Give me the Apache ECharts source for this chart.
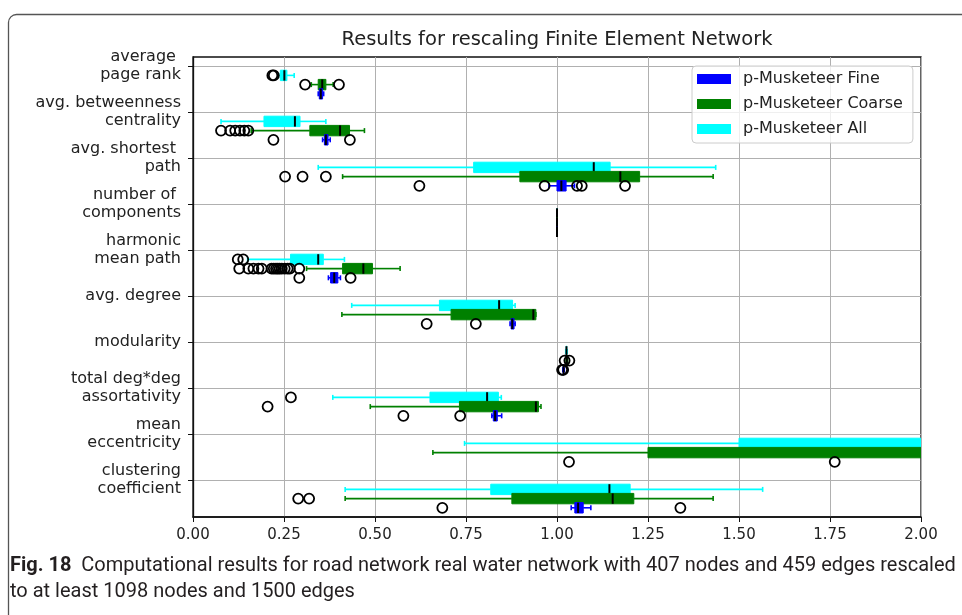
<!DOCTYPE html>
<html>
<head>
<meta charset="utf-8">
<script src="https://cdn.jsdelivr.net/npm/echarts@6/dist/echarts.min.js"></script>
<style>
  html, body { margin: 0; padding: 0; background: #ffffff; }
  #chart { width: 962px; height: 615px; }
</style>
</head>
<body>
<div id="chart"></div>
<script>
// Metric names, top to bottom
const metrics = [
  'average \npage rank',
  'avg. betweenness\ncentrality',
  'avg. shortest \npath',
  'number of \ncomponents',
  'harmonic\nmean path',
  'avg. degree',
  'modularity',
  'total deg*deg\nassortativity',
  'mean\neccentricity',
  'clustering\ncoefficient'
];

const seriesNames = ['p-Musketeer Fine', 'p-Musketeer Coarse', 'p-Musketeer All'];

const xTicks = [0, 0.25, 0.5, 0.75, 1.0, 1.25, 1.5, 1.75, 2.0];

// Box statistics per metric: [low whisker, Q1, median, Q3, high whisker]
const fineStats = [
  [0.344, 0.347, 0.351, 0.356, 0.359],
  [0.356, 0.361, 0.365, 0.371, 0.377],
  [0.978, 1.000, 1.012, 1.025, 1.048],
  [1.000, 1.000, 1.000, 1.000, 1.000],
  [0.372, 0.378, 0.388, 0.398, 0.405],
  [0.871, 0.874, 0.877, 0.882, 0.885],
  [1.016, 1.017, 1.018, 1.019, 1.020],
  [0.821, 0.825, 0.830, 0.836, 0.848],
  [2.100, 2.300, 2.500, 2.700, 2.900],
  [1.039, 1.049, 1.058, 1.072, 1.093]
];

const coarseStats = [
  [0.325, 0.344, 0.355, 0.365, 0.385],
  [0.160, 0.321, 0.404, 0.430, 0.471],
  [0.411, 0.898, 1.174, 1.227, 1.429],
  [1.000, 1.000, 1.000, 1.000, 1.000],
  [0.312, 0.411, 0.468, 0.493, 0.569],
  [0.409, 0.709, 0.935, 0.942, 0.942],
  [1.025, 1.026, 1.027, 1.028, 1.029],
  [0.487, 0.732, 0.942, 0.949, 0.956],
  [0.659, 1.250, 2.300, 2.800, 3.500],
  [0.418, 0.876, 1.153, 1.211, 1.429]
];

const allStats = [
  [0.235, 0.240, 0.251, 0.258, 0.278],
  [0.077, 0.195, 0.280, 0.294, 0.365],
  [0.344, 0.771, 1.101, 1.146, 1.436],
  [1.000, 1.000, 1.000, 1.000, 1.000],
  [0.150, 0.268, 0.344, 0.358, 0.416],
  [0.436, 0.677, 0.841, 0.878, 0.885],
  [1.024, 1.025, 1.026, 1.027, 1.028],
  [0.384, 0.651, 0.808, 0.839, 0.847],
  [0.746, 1.500, 2.400, 2.900, 3.600],
  [0.418, 0.818, 1.144, 1.201, 1.565]
];

// Points beyond the whiskers, per metric
const fineOutliers = [
  [],
  [0.221, 0.431],
  [0.622, 0.966, 1.055, 1.068, 1.187],
  [],
  [0.292, 0.433],
  [0.642, 0.777],
  [1.014, 1.017],
  [0.578, 0.734],
  [1.033, 1.763],
  [0.685, 1.339]
];

const coarseOutliers = [
  [0.308, 0.401],
  [0.077, 0.102, 0.116, 0.129, 0.141, 0.152],
  [0.253, 0.301, 0.365],
  [],
  [0.127, 0.152, 0.166, 0.180, 0.189, 0.216, 0.222, 0.228, 0.233, 0.238, 0.244, 0.252, 0.260, 0.266, 0.292],
  [],
  [1.021, 1.034],
  [0.205],
  [],
  [0.289, 0.319]
];

const allOutliers = [
  [0.218, 0.222],
  [],
  [],
  [],
  [0.123, 0.138],
  [],
  [],
  [0.269],
  [],
  []
];

const colors = { fine: '#0000ff', coarse: '#008000', all: '#00ffff' };

// Each metric occupies 5 rows on the y axis: tick row, All, Coarse, Fine, spacer
const ROWS = 5;
const slotCount = metrics.length * ROWS + 1;
const tickSlot = i => i * ROWS + 1;
const slotOffset = { all: 1, coarse: 2, fine: 3 };

const yCategories = [];
for (let s = 0; s < slotCount; s++) {
  yCategories.push(s % ROWS === 1 ? metrics[(s - 1) / ROWS] : 'row' + s);
}
const isTickRow = idx => idx % ROWS === 1;

function boxData(stats, key) {
  return stats.map((st, i) => [tickSlot(i) + slotOffset[key]].concat(st));
}

function flierData(lists) {
  const out = [];
  ['all', 'coarse', 'fine'].forEach(key => {
    lists[key].forEach((vals, i) => {
      vals.forEach(v => out.push([v, tickSlot(i) + slotOffset[key]]));
    });
  });
  return out;
}

function makeBoxRenderer(color) {
  const boxH = 10.4;
  const capH = 5;
  return function (params, api) {
    const slot = api.value(0);
    const lo = api.coord([api.value(1), slot]);
    const q1 = api.coord([api.value(2), slot]);
    const md = api.coord([api.value(3), slot]);
    const q3 = api.coord([api.value(4), slot]);
    const hi = api.coord([api.value(5), slot]);
    const cy = lo[1];
    const wStyle = { stroke: color, lineWidth: 1.6 };
    return {
      type: 'group',
      children: [
        { type: 'line', shape: { x1: lo[0], y1: cy, x2: q1[0], y2: cy }, style: wStyle },
        { type: 'line', shape: { x1: q3[0], y1: cy, x2: hi[0], y2: cy }, style: wStyle },
        { type: 'line', shape: { x1: lo[0], y1: cy - capH / 2, x2: lo[0], y2: cy + capH / 2 }, style: wStyle },
        { type: 'line', shape: { x1: hi[0], y1: cy - capH / 2, x2: hi[0], y2: cy + capH / 2 }, style: wStyle },
        { type: 'rect', shape: { x: q1[0], y: cy - boxH / 2, width: q3[0] - q1[0], height: boxH },
          style: { fill: color, stroke: color, lineWidth: 1 } },
        { type: 'line', shape: { x1: md[0], y1: cy - boxH / 2, x2: md[0], y2: cy + boxH / 2 },
          style: { stroke: '#000000', lineWidth: 2 } }
      ]
    };
  };
}

const chart = echarts.init(document.getElementById('chart'), null, { renderer: 'canvas' });

const baseFont = 'DejaVu Sans';

const option = {
  animation: false,
  backgroundColor: '#ffffff',
  grid: {
    left: 193, right: 41, top: 57, bottom: 98,
    show: true, borderColor: '#111111', borderWidth: 1.3, backgroundColor: 'transparent'
  },
  legend: {
    orient: 'vertical',
    left: 692, top: 66,
    data: seriesNames.map((n, i) => ({ name: n, icon: 'rect',
      itemStyle: { color: [colors.fine, colors.coarse, colors.all][i] } })),
    itemWidth: 34, itemHeight: 10, itemGap: 9,
    padding: [5, 10, 6, 5],
    backgroundColor: 'rgba(255,255,255,0.8)',
    borderColor: '#cccccc', borderWidth: 1, borderRadius: 4,
    textStyle: { fontFamily: baseFont, fontSize: 16, color: '#222222', lineHeight: 16, padding: [0, 0, 0, 7] }
  },
  xAxis: {
    type: 'value',
    min: xTicks[0], max: xTicks[xTicks.length - 1], interval: 0.25,
    axisLine: { show: true, lineStyle: { color: '#111111', width: 1.5 } },
    axisTick: { show: true, length: 5, lineStyle: { color: '#111111' } },
    axisLabel: { formatter: v => v.toFixed(2), fontFamily: baseFont, fontSize: 15, color: '#222222', margin: 11 },
    splitLine: { show: true, lineStyle: { color: '#b0b0b0', width: 1 } }
  },
  yAxis: {
    type: 'category',
    data: yCategories,
    inverse: true,
    boundaryGap: false,
    axisLine: { show: true, lineStyle: { color: '#111111', width: 1.3 } },
    axisTick: { show: true, length: 5, interval: isTickRow, lineStyle: { color: '#111111' } },
    axisLabel: { interval: isTickRow, fontFamily: baseFont, fontSize: 16, lineHeight: 18,
      color: '#222222', margin: 12, align: 'right' },
    splitLine: { show: true, interval: isTickRow, lineStyle: { color: '#b0b0b0', width: 1 } }
  },
  series: [
    { name: 'p-Musketeer All', type: 'custom', clip: true, itemStyle: { color: colors.all },
      renderItem: makeBoxRenderer(colors.all), encode: { x: [1, 2, 3, 4, 5], y: 0 },
      data: boxData(allStats, 'all'), z: 2 },
    { name: 'p-Musketeer Coarse', type: 'custom', clip: true, itemStyle: { color: colors.coarse },
      renderItem: makeBoxRenderer(colors.coarse), encode: { x: [1, 2, 3, 4, 5], y: 0 },
      data: boxData(coarseStats, 'coarse'), z: 3 },
    { name: 'p-Musketeer Fine', type: 'custom', clip: true, itemStyle: { color: colors.fine },
      renderItem: makeBoxRenderer(colors.fine), encode: { x: [1, 2, 3, 4, 5], y: 0 },
      data: boxData(fineStats, 'fine'), z: 4 },
    { name: 'outliers', type: 'scatter', symbol: 'circle', symbolSize: 10, z: 5, silent: true,
      itemStyle: { color: 'rgba(0,0,0,0)', borderColor: '#000000', borderWidth: 1.8, opacity: 1 },
      data: flierData({ all: allOutliers, coarse: coarseOutliers, fine: fineOutliers }) }
  ],
  graphic: [
    { type: 'rect', z: -10, silent: true,
      shape: { x: 8.5, y: 14.5, width: 1000, height: 700, r: 8 },
      style: { fill: 'none', stroke: '#555555', lineWidth: 1.3 } },
    { type: 'text', x: 557, y: 40, silent: true,
      style: { text: 'Results for rescaling Finite Element Network', fontFamily: baseFont, fontSize: 19.5,
        fill: '#222222', align: 'center', verticalAlign: 'middle' } },
    { type: 'text', x: 10, y: 566, silent: true,
      style: { text: '{b|Fig. 18}  Computational results for road network real water network with 407 nodes and 459 edges rescaled',
        fontFamily: 'Roboto', fontSize: 20, fill: '#231f20', align: 'left', verticalAlign: 'middle',
        rich: { b: { fontFamily: 'Roboto', fontSize: 20, fontWeight: 'bold', fill: '#231f20' } } } },
    { type: 'text', x: 10, y: 592, silent: true,
      style: { text: 'to at least 1098 nodes and 1500 edges',
        fontFamily: 'Roboto', fontSize: 20, fill: '#231f20', align: 'left', verticalAlign: 'middle' } }
  ]
};

chart.setOption(option);
</script>
</body>
</html>
